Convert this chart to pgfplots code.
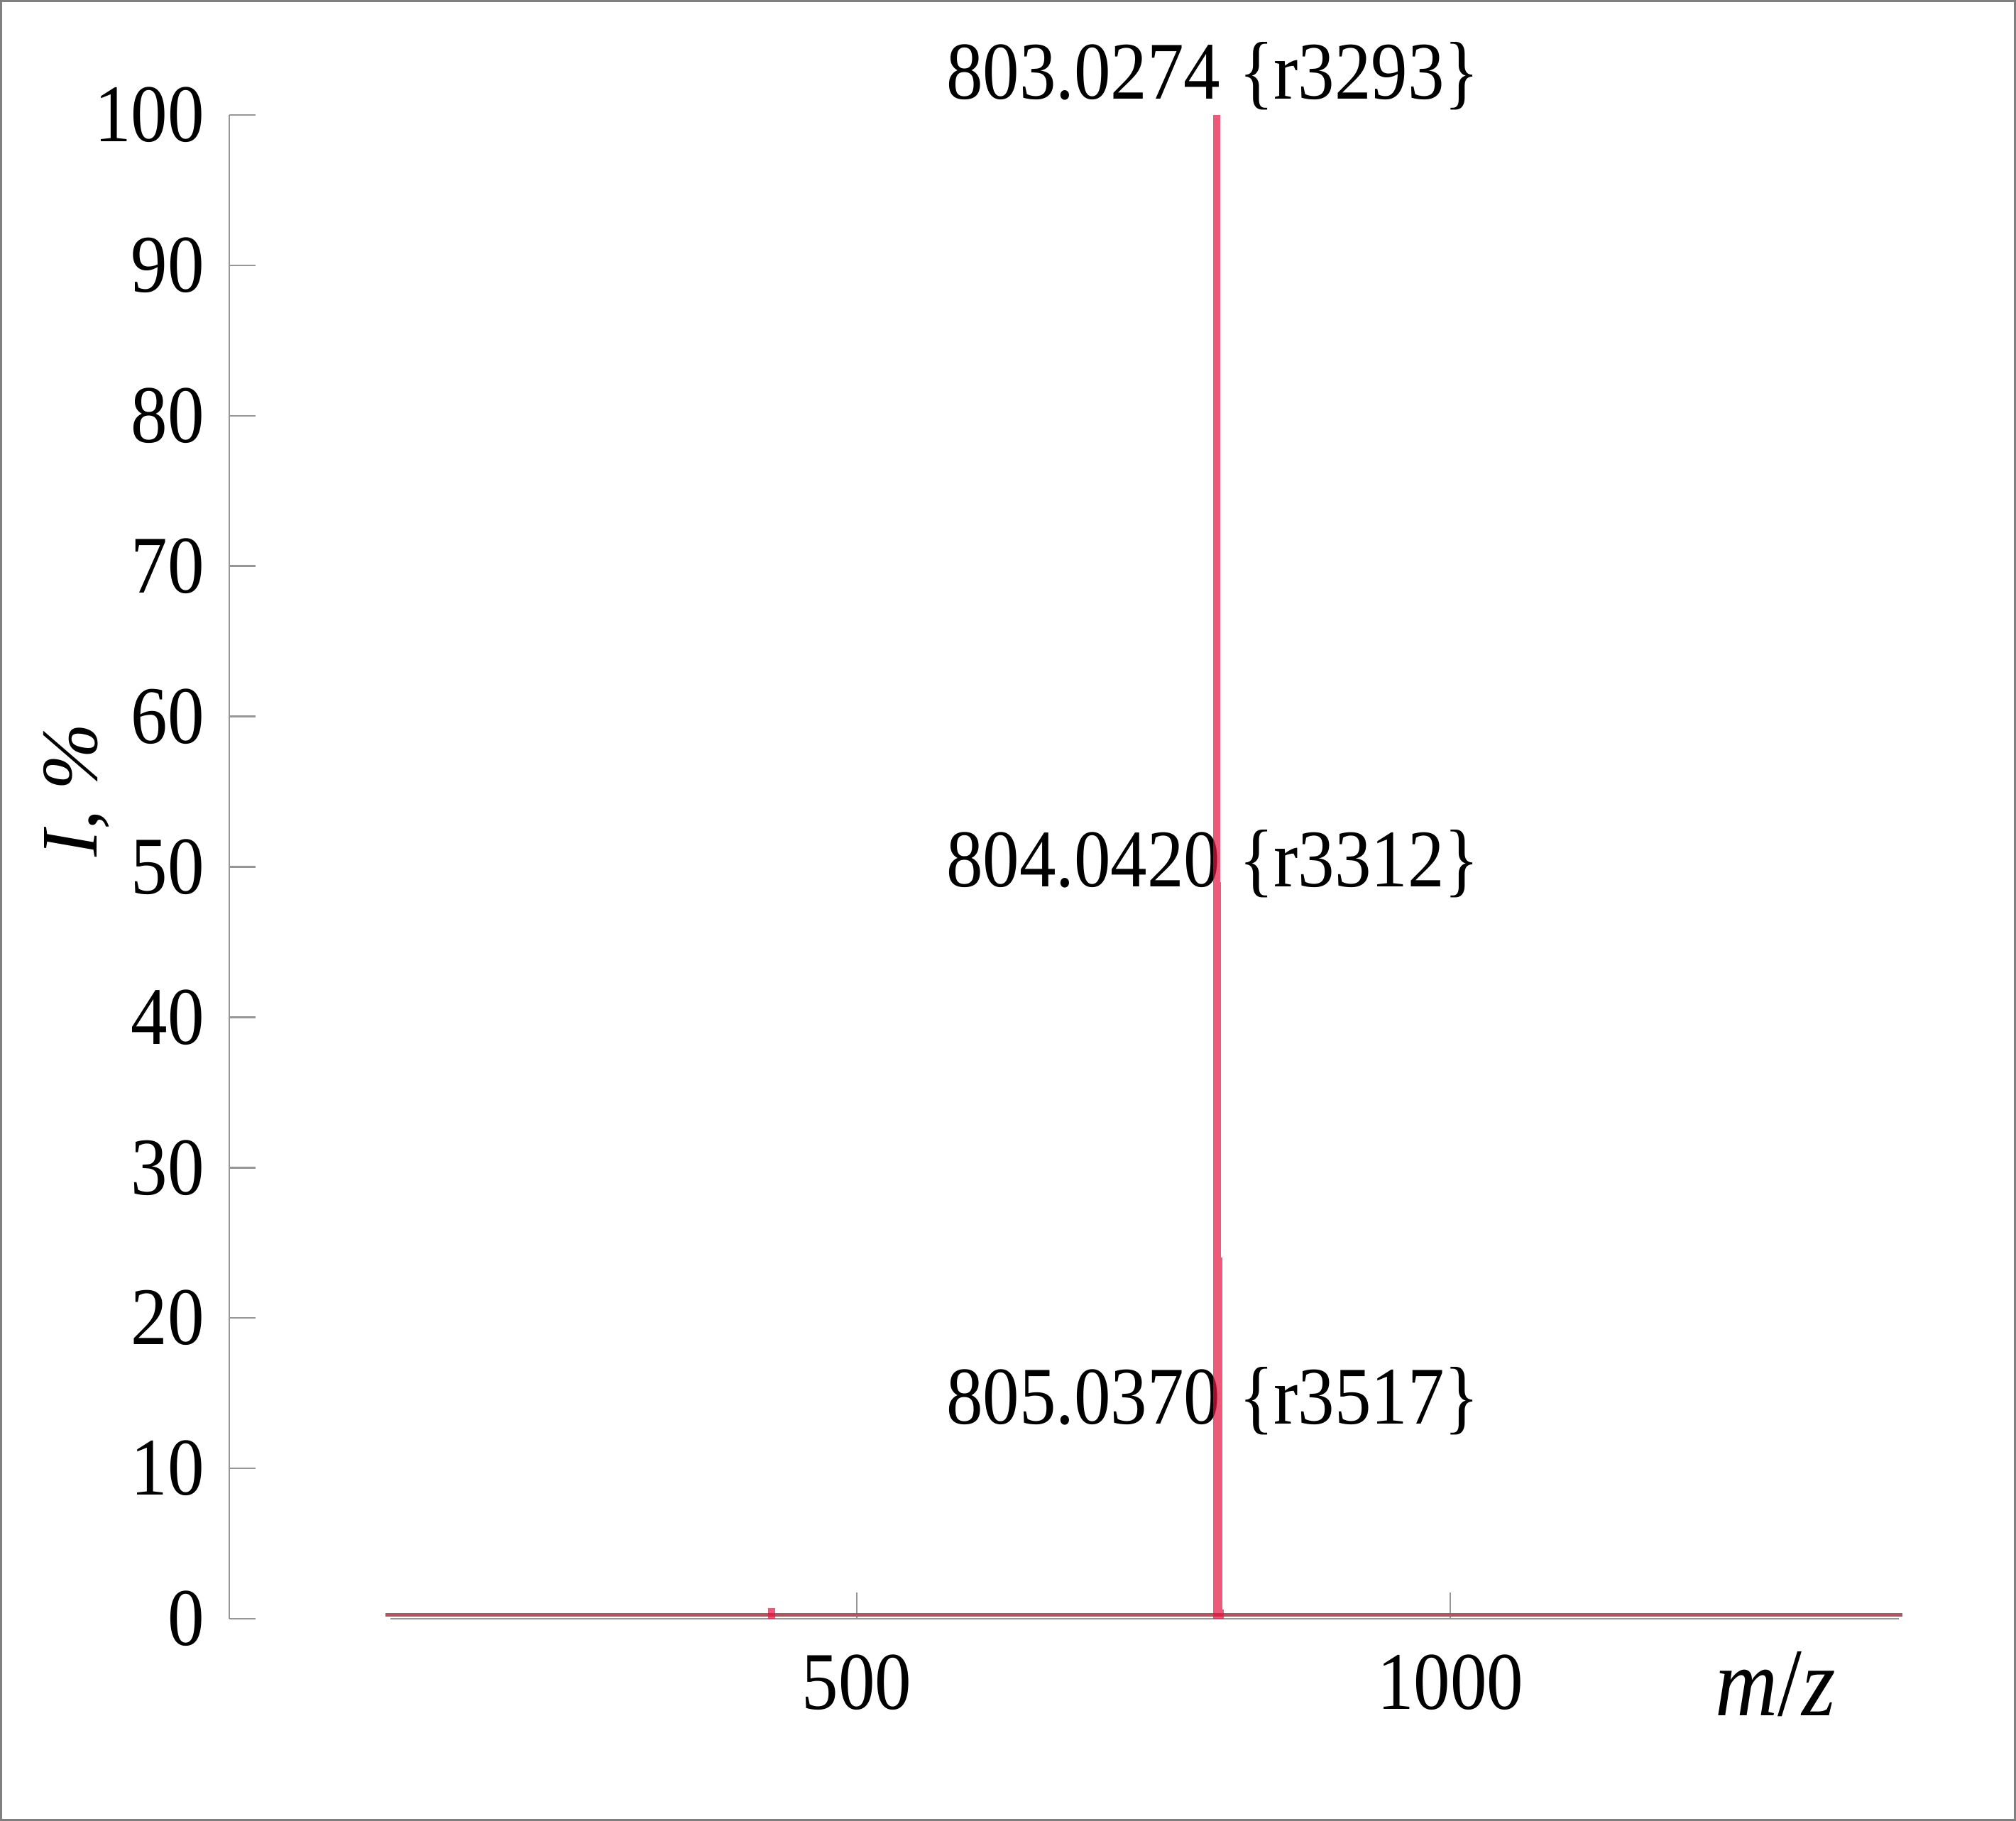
\documentclass[border=0pt]{standalone}
\usepackage{fontspec}
\setmainfont{Liberation Serif}
\usepackage{pgfplots}
\pgfplotsset{compat=1.18}
\usepackage{graphicx}
\definecolor{peak}{RGB}{230,18,62}
\definecolor{base}{RGB}{182,84,92}
\definecolor{axgray}{RGB}{150,150,150}
\newcommand{\st}[1]{\scalebox{1}[1.12]{#1}}
\newcommand{\fnt}{\fontsize{10.3}{12}\selectfont}

\begin{document}
\begin{tikzpicture}
\useasboundingbox (0,0) rectangle (284pt,256.6pt);
\draw[gray, line width=0.3pt] (0.15pt,0.15pt) rectangle (283.85pt,256.45pt);

\begin{axis}[at={(32.3pt,28.5pt)}, anchor=south west, scale only axis,
  width=10pt, height=211.9pt,
  xmin=0, xmax=1, ymin=0, ymax=100,
  axis x line=none, axis y line*=left,
  ytick={0,10,...,100}, tick align=inside, major tick length=3.7pt,
  axis line style={axgray, line width=0.25pt},
  every tick/.style={axgray, line width=0.25pt},
  /pgf/number format/assume math mode=true,
  yticklabel={\st{\pgfmathprintnumber{\tick}}},
  tick label style={font=\fnt},
  label style={font=\fontsize{11.3}{13}\selectfont},
  ylabel={\textit{I}, \textit{\%}},
  ylabel style={at={(axis description cs:-2.15,0.551)}, anchor=center}
]
\addplot[draw=none] coordinates {(0,0)};
\end{axis}

\begin{axis}[at={(55pt,28.5pt)}, anchor=south west, scale only axis,
  width=212.5pt, height=211.9pt,
  xmin=107, xmax=1378, ymin=0, ymax=100,
  axis y line=none, axis x line*=bottom, clip=false,
  xtick={500,1000}, tick align=inside, major tick length=3.7pt,
  axis line style={axgray, line width=0.25pt},
  every tick/.style={axgray, line width=0.25pt},
  /pgf/number format/assume math mode=true,
  /pgf/number format/1000 sep={},
  xticklabel={\st{\pgfmathprintnumber{\tick}}},
  tick label style={font=\fnt},
  xticklabel style={yshift=-1.5pt},
  label style={font=\fontsize{12.2}{14}\selectfont},
  xlabel={\st{\textit{m}/\textit{z}}},
  xlabel style={at={(axis description cs:0.918,-0.0434)}, anchor=center}
]
\node[font=\fnt, anchor=center] at (axis cs:800,102.6) {\st{803.0274 \{r3293\}}};
\node[font=\fnt, anchor=center] at (axis cs:800,50.2) {\st{804.0420 \{r3312\}}};
\node[font=\fnt, anchor=center] at (axis cs:800,14.5) {\st{805.0370 \{r3517\}}};
\addplot[base, line width=0.45pt] coordinates {(103,0.25) (1381,0.25)};
\addplot[peak, ycomb, line width=1.0pt, opacity=0.7] coordinates {
  (428,0.7) (803.0274,100) (804.0420,49) (805.0370,24) (806.04,0.6)};
\end{axis}
\end{tikzpicture}
\end{document}
